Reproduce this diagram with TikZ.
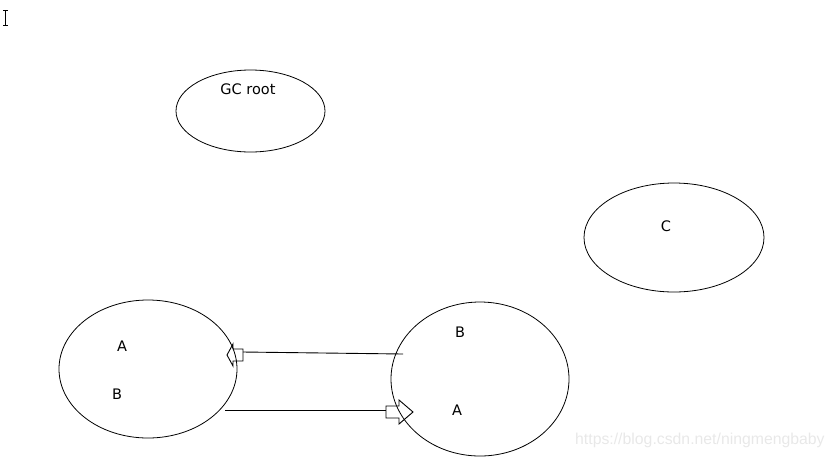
\documentclass[tikz,border=0pt]{standalone}
\usepackage{fontspec}
\setmainfont{DejaVu Sans}
\newfontfamily\wmfont{Liberation Sans}
\usetikzlibrary{shapes.geometric}
\begin{document}
\begin{tikzpicture}[x=1pt,y=-1pt,
  blob/.style={draw=black,line width=0.8pt,ellipse,inner sep=0pt},
  lbl/.style={font=\fontsize{14.5}{16}\selectfont,inner sep=0pt,anchor=center},
  link/.style={draw=black,line width=0.9pt},
  blockhead/.style={draw=black,line width=0.9pt,line join=miter}]
\useasboundingbox (0,0) rectangle (835,459);
% ellipses
\node[blob,minimum width=149pt,minimum height=82pt] (gc) at (250.5,111) {};
\node[blob,minimum width=180pt,minimum height=109pt] (c) at (674,237.5) {};
\node[blob,minimum width=178pt,minimum height=138pt] (left) at (148,369) {};
\node[blob,minimum width=178pt,minimum height=154pt] (right) at (480,379) {};
% labels
\node[lbl] (gcl) at (248,89) {GC root};
\node[lbl] (cl) at (666,226) {C};
\node[lbl] (la) at (122,346) {A};
\node[lbl] (lb) at (117,394) {B};
\node[lbl] (rb) at (460,332) {B};
\node[lbl] (ra) at (457,410) {A};
% connectors
\coordinate (t1) at (403,354);
\coordinate (t2) at (243,352);
\coordinate (b1) at (225,410);
\coordinate (b2) at (386,410);
\draw[link] (t1) -- (t2);
\draw[blockhead] (243,349) -- (233,349) -- (233,344) -- (227,355) -- (233,366) -- (233,361) -- (243,361) -- cycle;
\draw[link] (b1) -- (b2);
\draw[blockhead] (386,406) -- (399,406) -- (399,400) -- (413,412) -- (399,424) -- (399,418) -- (386,418) -- cycle;
% cursor
\draw[line width=1pt,color=black] (3,10) -- (8,10) (5.5,10) -- (5.5,25) (3,25) -- (8,25);
% watermark
\node[font=\wmfont\fontsize{15.8}{17}\selectfont,text=black!9,inner sep=0pt,anchor=west] (wm) at (575,440) {https://blog.csdn.net/ningmengbaby};
\end{tikzpicture}
\end{document}
